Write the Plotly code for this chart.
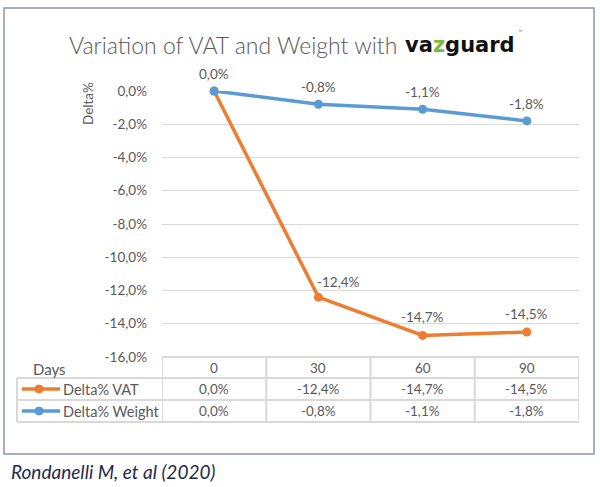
import plotly.graph_objects as go

# ---------------- data ----------------
days = ["0", "30", "60", "90"]
vat = [0.0, -12.4, -14.7, -14.5]
weight = [0.0, -0.8, -1.1, -1.8]
series_names = ["Delta% VAT", "Delta% Weight"]
y_ticks = [0, -2, -4, -6, -8, -10, -12, -14, -16]

ORANGE = "#ED7D31"
BLUE = "#5B9BD5"
GRAY_TXT = "#595959"
GRID = "#D9D9D9"
FONT = "Lato"

W, H = 600, 487
ML, MR, MT, MB = 162, 21, 91, 130
PW, PH = W - ML - MR, H - MT - MB


def fmt(v):
    return f"{v:.1f}".replace(".", ",") + "%"


def px(x):
    return (x - ML) / PW


def py(y):
    return (H - MB - y) / PH


xi = list(range(len(days)))

fig = go.Figure()
fig.add_trace(go.Scatter(x=xi, y=vat, mode="lines+markers", name=series_names[0],
                         line=dict(color=ORANGE, width=3.5),
                         marker=dict(color=ORANGE, size=9), cliponaxis=False))
fig.add_trace(go.Scatter(x=xi, y=weight, mode="lines+markers", name=series_names[1],
                         line=dict(color=BLUE, width=3.5),
                         marker=dict(color=BLUE, size=9), cliponaxis=False))

ann = []
# data labels
for i, v in enumerate(weight):
    ann.append(dict(x=i, y=v, xref="x", yref="y", text=fmt(v), showarrow=False,
                    xanchor="center", yanchor="middle",
                    yshift=17, font=dict(family=FONT, size=13.5, color=GRAY_TXT)))
for i, v in enumerate(vat):
    if i == 0:
        continue
    xs = 20 if i == 1 else 0
    ys = 15 if i == 1 else 18
    ann.append(dict(x=i, y=v, xref="x", yref="y", text=fmt(v), showarrow=False,
                    xanchor="center", yanchor="middle",
                    xshift=xs, yshift=ys, font=dict(family=FONT, size=13.5, color=GRAY_TXT)))

# title + logo
ann.append(dict(x=px(233), y=py(45), xref="paper", yref="paper",
                text="Variation of VAT and Weight with", showarrow=False,
                xanchor="center", yanchor="middle",
                font=dict(family=FONT, size=23, color=GRAY_TXT, weight=300)))
ann.append(dict(x=px(403), y=py(45), xref="paper", yref="paper",
                text="<b>va<span style='color:#7DB73D'>z</span>guard</b>", showarrow=False,
                xanchor="left", yanchor="middle",
                font=dict(family="DejaVu Sans", size=21, color="#111111")))
ann.append(dict(x=px(516), y=py(32), xref="paper", yref="paper", text="™", showarrow=False,
                xanchor="left", yanchor="middle",
                font=dict(family="DejaVu Sans", size=5, color="#333333")))

# y axis title
ann.append(dict(x=px(88), y=py(104), xref="paper", yref="paper", text="Delta%",
                textangle=-90, showarrow=False, xanchor="center", yanchor="middle",
                font=dict(family=FONT, size=13.5, color=GRAY_TXT)))

# ---------------- data table ----------------
row_h = 22
top = H - MB                   # 357
rows_y = [top, top + row_h - 1, top + 2 * row_h - 1, top + 3 * row_h - 1]
table_left = 17
shapes = []
# horizontal lines
for k, yy in enumerate(rows_y):
    x0 = px(ML) if k == 0 else px(table_left)
    shapes.append(dict(type="line", xref="paper", yref="paper", x0=x0, x1=1,
                       y0=py(yy), y1=py(yy), line=dict(color=GRID, width=2)))
# vertical lines (column borders follow the category axis)
for b in [i - 0.5 for i in range(len(days) + 1)]:
    shapes.append(dict(type="line", xref="x", yref="paper", x0=b, x1=b,
                       y0=py(rows_y[0]), y1=py(rows_y[-1]), line=dict(color=GRID, width=2)))
shapes.append(dict(type="line", xref="paper", yref="paper", x0=px(table_left), x1=px(table_left),
                   y0=py(rows_y[1]), y1=py(rows_y[-1]), line=dict(color=GRID, width=2)))

# header texts
ann.append(dict(x=px(31), y=py((rows_y[0] + rows_y[1]) / 2 + 1), xref="paper", yref="paper",
                text="Days", showarrow=False, xanchor="left", yanchor="middle",
                font=dict(family=FONT, size=15, color=GRAY_TXT)))
for i, d in enumerate(days):
    ann.append(dict(x=i, y=py((rows_y[0] + rows_y[1]) / 2), xref="x", yref="paper",
                    text=d, showarrow=False, xanchor="center", yanchor="middle",
                    font=dict(family=FONT, size=13.5, color=GRAY_TXT)))

for r, (name, vals, col) in enumerate([(series_names[0], vat, ORANGE),
                                       (series_names[1], weight, BLUE)]):
    yc = (rows_y[r + 1] + rows_y[r + 2]) / 2
    shapes.append(dict(type="line", xref="paper", yref="paper", x0=px(22), x1=px(60),
                       y0=py(yc), y1=py(yc), line=dict(color=col, width=3.5)))
    shapes.append(dict(type="circle", xref="paper", yref="paper", x0=px(35), x1=px(43),
                       y0=py(yc - 4), y1=py(yc + 4), fillcolor=col, line=dict(color=col, width=1)))
    ann.append(dict(x=px(61), y=py(yc), xref="paper", yref="paper", text=name,
                    showarrow=False, xanchor="left", yanchor="middle",
                    font=dict(family=FONT, size=14.5, color=GRAY_TXT)))
    for i, v in enumerate(vals):
        ann.append(dict(x=i, y=py(yc), xref="x", yref="paper", text=fmt(v),
                        showarrow=False, xanchor="center", yanchor="middle",
                        font=dict(family=FONT, size=13.5, color=GRAY_TXT)))

# outer frame
shapes.append(dict(type="rect", xref="paper", yref="paper", x0=px(4), x1=px(594),
                   y0=py(8), y1=py(454), line=dict(color="#8C95B3", width=1.5), layer="below"))

# caption
ann.append(dict(x=px(9), y=py(471), xref="paper", yref="paper",
                text="<i>Rondanelli M, et al (2020)</i>", showarrow=False,
                xanchor="left", yanchor="middle",
                font=dict(family=FONT, size=19, color="#1D2B4A")))

fig.update_layout(
    width=W, height=H,
    margin=dict(l=ML, r=MR, t=MT, b=MB, autoexpand=False),
    paper_bgcolor="white", plot_bgcolor="white",
    showlegend=False,
    xaxis=dict(range=[-0.5, len(days) - 0.5], showgrid=False, zeroline=False,
               showticklabels=False, showline=False, fixedrange=True),
    yaxis=dict(range=[y_ticks[-1], y_ticks[0]], tickvals=y_ticks,
               ticktext=[fmt(v) for v in y_ticks], showgrid=True, gridcolor=GRID,
               gridwidth=1.2, zeroline=False, showline=False, ticks="",
               ticklabelstandoff=14,
               tickfont=dict(family=FONT, size=13.5, color=GRAY_TXT)),
    annotations=ann,
    shapes=shapes,
)

fig.write_html("out.html", config={"displayModeBar": False},
               post_script="document.body.style.margin='0';document.body.style.overflow='hidden';")
